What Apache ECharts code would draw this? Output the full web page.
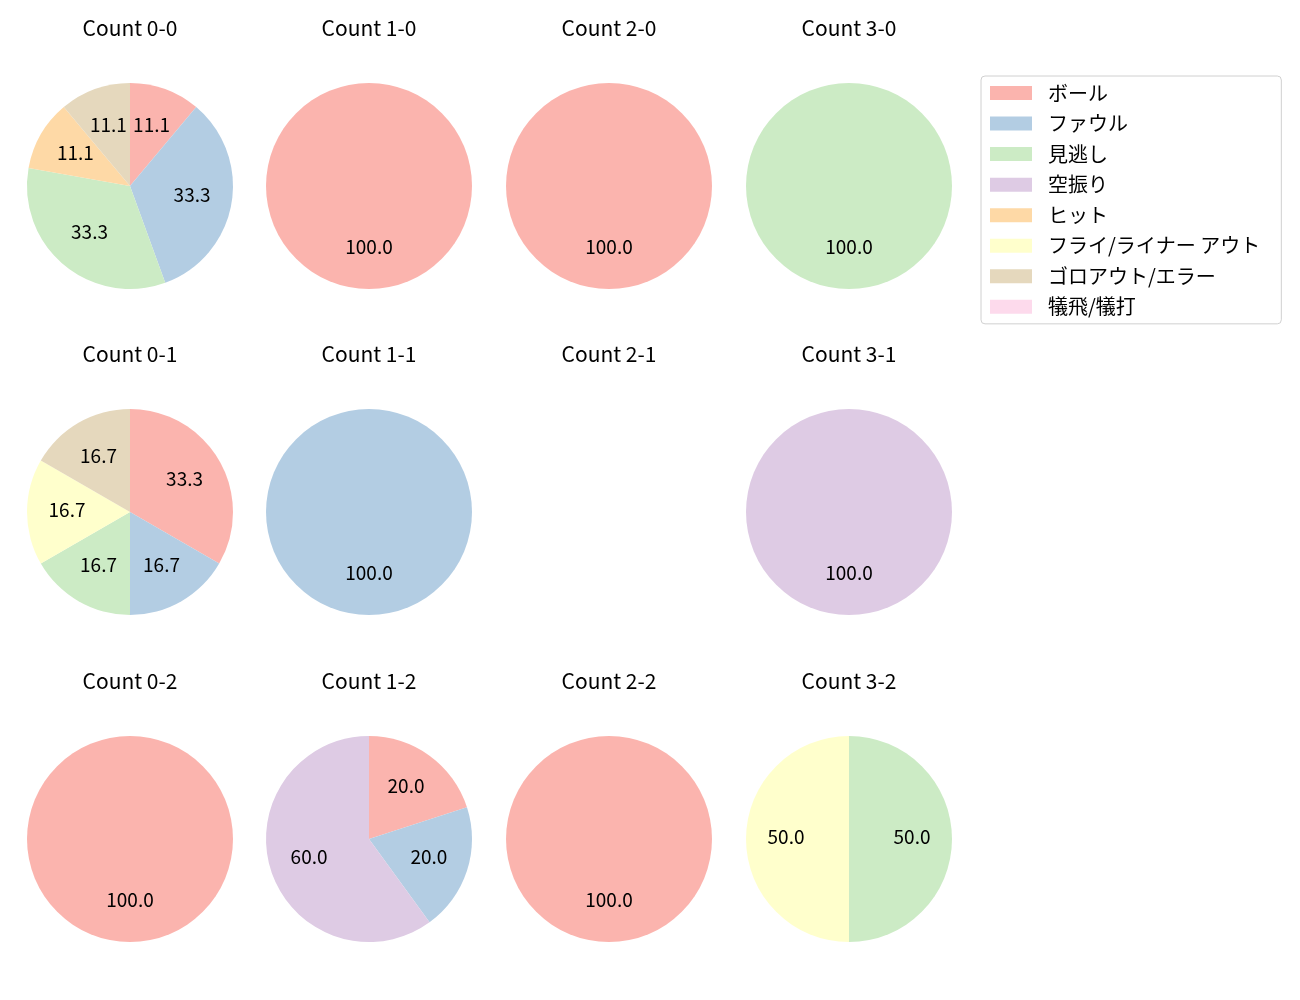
<!DOCTYPE html>
<html><head><meta charset="utf-8">
<script src="https://cdn.jsdelivr.net/npm/echarts@6/dist/echarts.min.js"></script>
<style>html,body{margin:0;padding:0;background:#fff}#c{width:1300px;height:1000px}</style>
</head><body><div id="c"></div>
<script>
const categories = ['ボール','ファウル','見逃し','空振り','ヒット','フライ/ライナー アウト','ゴロアウト/エラー','犠飛/犠打'];
const colors = ['#fbb4ae','#b3cde3','#ccebc5','#decbe4','#fed9a6','#ffffcc','#e5d8bd','#fddaec'];
const titles = ['Count 0-0','Count 1-0','Count 2-0','Count 3-0','Count 0-1','Count 1-1','Count 2-1','Count 3-1','Count 0-2','Count 1-2','Count 2-2','Count 3-2'];
const count00 = [1,3,3,0,1,0,1,0];
const count10 = [1,0,0,0,0,0,0,0];
const count20 = [1,0,0,0,0,0,0,0];
const count30 = [0,0,1,0,0,0,0,0];
const count01 = [2,1,1,0,0,1,1,0];
const count11 = [0,1,0,0,0,0,0,0];
const count21 = [0,0,0,0,0,0,0,0];
const count31 = [0,0,0,1,0,0,0,0];
const count02 = [1,0,0,0,0,0,0,0];
const count12 = [1,1,0,3,0,0,0,0];
const count22 = [1,0,0,0,0,0,0,0];
const count32 = [0,0,1,0,0,1,0,0];
const allCounts = [count00,count10,count20,count30,count01,count11,count21,count31,count02,count12,count22,count32];

// layout
const colX = [130, 369, 609, 849];
const rowY = [186, 512, 839];
const R = 103;
const FONT = 'Noto Sans CJK JP';

const chart = echarts.init(document.getElementById('c'), null, {renderer:'canvas'});
const series = [];
const titleOpts = [];
allCounts.forEach((vals, i) => {
  const cx = colX[i % 4], cy = rowY[Math.floor(i / 4)];
  const total = vals.reduce((a, b) => a + b, 0);
  titleOpts.push({
    text: titles[i], left: cx, top: cy - 168, textAlign: 'center', padding: 0,
    textStyle: {fontFamily: FONT, fontSize: 21, fontWeight: 'normal', color: '#000'}
  });
  series.push({
    type: 'pie', center: [cx, cy], radius: [0, R], startAngle: 90, clockwise: true,
    stillShowZeroSum: false, silent: true, animation: false,
    label: {show: false}, labelLine: {show: false},
    data: categories.map((name, k) => ({name, value: vals[k], itemStyle: {color: colors[k]}}))
  });
  series.push({
    type: 'pie', center: [cx, cy], radius: [17, R], startAngle: 90, clockwise: true,
    stillShowZeroSum: false, silent: true, animation: false,
    itemStyle: {color: 'rgba(0,0,0,0)'},
    label: {show: true, position: 'inside', fontFamily: FONT, fontSize: 19, color: '#000', offset: [0, -2],
      formatter: p => (p.value / total * 100).toFixed(1)},
    labelLine: {show: false},
    data: categories.map((name, k) => ({name: name + ' ', value: vals[k], label: {show: vals[k] > 0}}))
  });
});

chart.setOption({
  animation: false,
  title: titleOpts,
  legend: {
    data: categories, orient: 'vertical', left: 981, top: 76,
    icon: 'rect', itemWidth: 42, itemHeight: 14, itemGap: 10.55,
    padding: [7, 21, 7, 9],
    borderColor: '#d0d0d0', borderWidth: 1, borderRadius: 4,
    textStyle: {fontFamily: FONT, fontSize: 20, color: '#000', lineHeight: 20, padding: [0, 0, 0, 11]},
    selectedMode: false
  },
  series
});
</script></body></html>
